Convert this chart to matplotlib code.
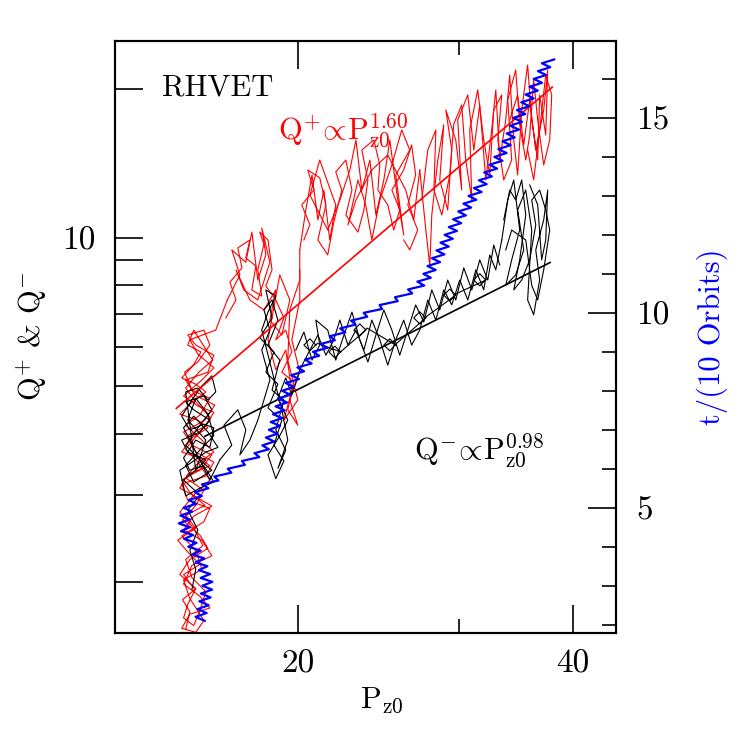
import numpy as np
import matplotlib
matplotlib.use('Agg')
import matplotlib.pyplot as plt

plt.rcParams['font.family'] = 'cmr10'
plt.rcParams['mathtext.fontset'] = 'cm'
plt.rcParams['axes.formatter.use_mathtext'] = True

qplus_low = [
    (15.05, 1.60), (15.21, 1.74), (14.93, 1.84), (15.40, 1.93), (14.97, 2.07), (15.60, 2.17),
    (15.13, 2.30), (14.75, 2.43), (15.44, 2.57), (15.05, 2.73), (15.80, 2.86), (15.21, 3.04),
    (14.90, 3.22), (15.60, 3.37), (16.08, 3.62), (15.29, 3.79), (14.97, 4.03), (15.80, 4.26),
    (16.20, 4.57), (15.40, 4.79), (15.05, 5.14), (15.92, 5.33), (16.16, 5.77), (15.44, 6.05),
    (15.13, 6.34), (15.76, 6.49), (16.00, 6.05), (15.52, 5.59), (15.01, 5.33), (15.29, 4.90),
    (16.00, 4.72), (15.60, 4.36), (15.05, 4.16), (15.68, 3.88), (16.16, 3.67), (15.44, 3.45),
    (15.05, 3.25), (15.76, 3.07), (15.44, 2.86), (14.93, 2.67), (15.60, 2.49), (15.92, 2.34),
    (15.21, 2.22), (14.83, 2.07), (15.44, 1.94), (15.13, 1.80), (14.97, 1.69), (15.36, 1.63),
    (15.60, 1.75), (15.84, 1.91), (15.29, 2.04), (15.05, 2.22), (15.72, 2.37), (15.36, 2.57),
    (14.83, 2.77), (15.36, 3.00), (16.00, 3.22), (15.52, 3.50), (15.05, 3.72), (15.60, 4.03),
    (16.04, 4.30), (15.44, 4.64), (15.05, 4.95), (15.56, 5.33), (16.12, 5.64), (15.60, 6.20),
    (15.36, 6.49), (15.13, 6.05), (15.64, 5.86), (15.33, 5.49), (14.90, 5.19), (15.44, 5.04),
    (15.84, 4.86), (15.21, 4.59), (14.83, 4.38), (15.52, 4.26), (15.92, 4.11), (15.29, 3.92),
    (14.90, 3.67), (15.60, 3.57), (16.00, 3.44), (15.13, 3.31), (14.83, 3.10), (15.52, 2.96),
    (16.08, 2.85), (15.36, 2.72), (14.97, 2.55), (15.68, 2.43), (16.08, 2.26), (15.29, 2.16),
    (14.97, 1.98), (15.60, 1.87), (16.00, 1.77), (15.21, 1.72), (14.90, 1.61), (15.44, 1.58),
    (15.76, 1.67), (15.21, 1.85), (14.97, 2.02), (15.68, 2.12), (15.44, 2.32), (14.90, 2.48),
    (15.76, 2.65), (16.00, 2.82), (15.13, 2.93), (14.90, 3.16), (15.84, 3.28), (16.16, 3.50),
    (15.44, 3.67), (15.13, 3.96), (15.84, 4.15), (16.16, 4.42), (15.52, 4.55), (14.97, 4.77),
    (15.68, 5.14), (16.16, 5.44), (15.52, 5.80), (15.21, 6.20), (15.84, 6.38), (16.24, 6.49),
    (16.72, 7.47),
]
qplus_mid_a = [
    (16.72, 7.47), (17.26, 8.40), (16.91, 9.44), (17.52, 8.91), (17.79, 10.26), (18.06, 8.20),
    (18.43, 9.23), (18.24, 10.46), (18.62, 8.91), (18.06, 7.47), (17.43, 7.83), (17.09, 8.60),
    (17.70, 7.47), (18.34, 7.13), (18.90, 7.83), (18.62, 6.80), (19.19, 6.34), (19.58, 7.47),
    (19.09, 8.40), (18.53, 6.20), (18.90, 5.39), (19.38, 5.91), (19.68, 4.90), (19.29, 4.26),
    (19.98, 4.68), (19.48, 5.64), (19.58, 7.13), (20.08, 8.20), (20.08, 9.44),
]
qplus_mid_b = [
    (16.66, 6.87), (17.09, 7.47), (16.83, 8.12), (17.35, 8.68), (17.17, 9.53), (17.70, 9.89),
    (17.52, 9.09), (17.97, 8.76), (17.79, 7.83), (18.24, 7.61), (18.06, 8.60), (18.34, 9.69),
    (18.15, 10.26), (18.53, 9.89), (18.72, 8.60), (18.43, 7.98), (18.90, 7.47), (19.29, 6.87),
    (18.90, 6.20), (19.38, 6.49), (19.68, 5.86), (19.19, 5.33), (19.78, 5.09), (19.48, 4.47),
    (19.98, 4.16), (19.58, 4.68), (20.08, 5.33), (19.68, 6.20), (20.08, 7.47), (20.08, 8.60),
]
qplus_upper_a = [
    (20.08, 9.44), (20.39, 11.38), (20.71, 13.40), (21.02, 10.86), (21.34, 12.49), (21.66, 9.89),
    (21.99, 11.65), (21.12, 14.37), (20.60, 12.20), (21.55, 10.36), (22.22, 11.92), (22.79, 13.72),
    (23.14, 15.78), (23.49, 12.49), (23.97, 14.37), (24.34, 11.11), (24.83, 13.09), (25.21, 15.78),
    (25.72, 11.92), (26.11, 10.12), (25.59, 13.40), (26.51, 15.06), (25.98, 16.54), (25.34, 14.04),
    (24.58, 11.92), (24.09, 9.89), (23.72, 11.65), (23.26, 13.09), (22.68, 10.61), (23.14, 11.92),
    (24.09, 13.72), (25.08, 14.71), (26.24, 12.49), (26.78, 10.86), (27.19, 13.72),
]
qplus_upper_b = [
    (20.29, 9.89), (20.60, 10.62), (20.18, 11.65), (20.81, 12.49), (20.49, 13.72), (21.12, 13.22),
    (21.45, 11.65), (21.02, 9.89), (21.55, 9.22), (21.88, 10.74), (22.33, 12.49), (21.99, 13.59),
    (22.56, 14.37), (22.91, 12.49), (22.56, 11.11), (23.26, 10.26), (23.61, 11.38), (23.85, 13.09),
    (23.49, 15.06), (24.21, 15.78), (24.58, 14.04), (24.46, 12.49), (25.08, 11.65), (25.46, 10.36),
    (25.85, 11.38), (25.34, 12.49), (26.11, 13.72), (26.64, 15.42), (26.91, 13.40), (26.38, 11.65),
    (27.05, 10.36), (26.51, 9.44), (26.11, 9.89),
]
qplus_top_a = [
    (27.19, 13.72), (27.61, 10.36), (27.89, 8.77), (28.03, 11.11), (28.46, 14.37), (28.89, 16.94),
    (28.60, 13.09), (29.18, 11.38), (29.48, 15.06), (29.04, 18.16), (29.78, 15.78), (30.23, 12.49),
    (29.93, 17.33), (30.70, 19.48), (31.17, 15.06), (31.64, 18.59), (32.13, 13.09), (32.61, 16.54),
    (32.95, 19.94), (33.28, 14.37), (33.79, 17.33), (34.13, 21.38), (34.48, 15.78), (34.82, 13.40),
    (35.18, 18.16), (35.71, 22.41), (36.08, 17.33), (36.63, 14.37), (36.81, 19.48), (37.38, 16.15),
    (37.57, 21.89), (37.19, 18.16), (36.45, 15.06), (35.90, 19.03), (35.36, 15.42), (34.82, 19.48),
    (34.13, 17.33),
]
qplus_top_b = [
    (27.33, 11.92), (27.75, 15.06), (28.32, 16.54), (28.18, 12.49), (28.75, 11.11), (29.33, 13.40),
    (29.63, 17.00), (30.23, 18.59), (30.54, 14.37), (31.01, 11.92), (30.85, 16.54), (31.48, 19.94),
    (31.96, 15.78), (32.45, 13.40), (32.78, 18.16), (33.45, 19.48), (33.12, 15.78), (33.62, 13.09),
    (34.30, 14.37), (33.96, 19.03), (34.65, 21.89), (35.00, 16.94), (35.54, 14.37), (35.90, 16.15),
    (36.26, 20.89), (36.63, 17.33), (37.19, 14.04), (37.76, 15.78), (37.95, 19.48), (37.38, 21.38),
    (36.81, 16.54), (36.26, 13.09), (35.71, 15.06),
]

# Q- (black) trajectory: (Pz0, Q-)
qminus_low = [
    (15.29, 1.93), (15.44, 2.12), (15.21, 2.32), (15.52, 2.55), (15.13, 2.80), (15.60, 3.00),
    (14.97, 3.22), (15.44, 3.37), (15.84, 3.54), (15.13, 3.67), (14.90, 3.88), (15.60, 4.03),
    (16.00, 4.26), (15.36, 4.47), (15.05, 4.64), (15.76, 4.77), (16.08, 4.47), (15.60, 4.16),
    (15.05, 3.79), (15.52, 3.57), (16.08, 3.37), (15.36, 3.19), (15.05, 3.45), (15.68, 3.74),
    (16.16, 3.96), (15.92, 4.38), (15.44, 4.72), (15.13, 4.26), (15.84, 3.88), (15.44, 3.37),
    (15.05, 4.86), (15.52, 4.95), (15.92, 4.68), (16.24, 4.86), (16.08, 5.24), (15.68, 5.00),
    (15.29, 4.68), (14.90, 4.34), (15.21, 4.07), (15.76, 4.18), (16.16, 4.11), (16.00, 3.75),
    (15.44, 3.88), (14.97, 3.57), (15.21, 3.37), (15.76, 3.44), (16.16, 3.19), (15.60, 3.10),
    (15.05, 2.99), (14.83, 3.37), (15.29, 3.50), (15.84, 3.67), (16.33, 3.75), (15.92, 4.03),
    (15.36, 4.34), (14.97, 4.11), (16.00, 3.22), (16.41, 3.54),
]
qminus_column = [
    (16.41, 3.54), (16.91, 3.79), (16.58, 4.16), (17.17, 4.47), (17.52, 4.07), (17.26, 3.62),
    (17.70, 3.88), (18.06, 4.26), (18.34, 4.68), (18.62, 5.14), (18.24, 5.91), (18.62, 6.49),
    (18.34, 7.13), (18.72, 7.47), (19.00, 6.80), (18.53, 6.05), (19.09, 5.64), (18.72, 4.90),
    (19.29, 4.68), (18.90, 4.07), (19.38, 3.70), (19.00, 3.40), (19.48, 3.88), (19.19, 4.47),
    (18.24, 6.49), (18.53, 7.06), (18.90, 7.61), (18.43, 7.83), (18.72, 6.87), (18.15, 6.26),
    (18.81, 5.86), (18.43, 5.33), (19.00, 5.04), (18.53, 4.51), (19.19, 4.26), (18.81, 3.79),
    (19.29, 3.52), (18.90, 3.24), (18.53, 3.62), (19.09, 3.96), (19.48, 4.26), (19.00, 4.72),
    (19.38, 5.19), (19.68, 4.79), (20.08, 5.39),
]
qminus_band_a = [
    (20.08, 5.39), (20.60, 5.91), (21.02, 6.34), (21.45, 5.77), (21.88, 6.20), (22.22, 6.80),
    (22.68, 6.05), (23.14, 6.49), (23.61, 5.91), (24.09, 6.80), (24.58, 6.20), (25.08, 5.51),
    (25.59, 6.20), (26.11, 6.80), (26.64, 6.05), (27.19, 6.49), (27.75, 7.47), (28.32, 6.80),
    (28.89, 7.83), (29.48, 7.30), (30.08, 8.20), (30.70, 7.47), (31.33, 8.60), (31.96, 7.83),
    (32.45, 9.22), (32.95, 8.60), (33.45, 9.89),
]
qminus_band_b = [
    (19.88, 5.91), (20.29, 6.43), (20.71, 5.64), (21.12, 6.05), (20.91, 6.80), (21.55, 6.49),
    (21.99, 5.64), (22.45, 6.34), (22.91, 7.06), (23.37, 6.20), (23.85, 5.59), (24.34, 6.34),
    (24.83, 7.13), (25.34, 6.49), (25.85, 5.77), (26.38, 6.49), (26.91, 7.30), (27.47, 6.74),
    (28.03, 7.83), (28.60, 7.13), (29.18, 8.20), (29.78, 7.47), (30.39, 8.68), (31.01, 7.83),
    (31.64, 9.01), (32.29, 8.20), (32.78, 9.66), (33.28, 8.80),
]
qminus_curls = [
    (20.91, 6.05), (20.60, 6.23), (20.29, 6.05), (20.60, 5.89), (21.00, 6.10),
    (22.27, 5.86), (21.94, 6.02), (21.61, 5.86), (21.94, 5.70), (22.35, 5.90),
    (23.73, 6.49), (23.37, 6.68), (23.02, 6.49), (23.37, 6.31), (23.80, 6.55),
    (25.59, 6.05), (25.21, 6.23), (24.83, 6.05), (25.21, 5.89), (25.65, 6.10),
    (27.61, 6.87), (27.19, 7.07), (26.78, 6.87), (27.19, 6.68), (27.70, 6.93),
    (29.78, 7.64), (29.33, 7.86), (28.89, 7.64), (29.33, 7.43), (29.85, 7.70),
    (32.13, 8.20), (31.64, 8.45), (31.17, 8.20), (31.64, 7.98), (32.20, 8.25),
]
qminus_right_a = [
    (33.45, 9.89), (33.96, 11.92), (34.48, 13.09), (35.00, 10.36), (34.30, 9.01), (33.79, 8.00),
    (34.65, 8.40), (35.36, 9.44), (34.82, 11.38), (35.54, 12.49), (36.08, 10.36), (35.71, 7.47),
    (36.26, 6.97), (36.81, 8.20), (36.45, 9.44), (37.19, 10.86), (37.57, 12.49), (37.38, 9.89),
    (37.00, 9.01), (36.63, 11.65), (35.90, 12.79),
]
qminus_right_b = [
    (33.62, 10.86), (34.13, 12.49), (34.65, 11.92), (35.18, 13.09), (35.54, 11.11), (35.00, 9.01),
    (34.48, 7.83), (35.18, 8.20), (35.90, 9.01), (36.45, 10.61), (36.08, 11.92), (36.81, 12.49),
    (37.38, 11.38), (37.76, 10.36), (37.19, 8.60), (36.63, 7.47), (36.08, 8.00), (35.54, 9.89),
    (34.30, 10.36), (33.79, 9.44),
]

# t/(10 orbits) (blue) against Pz0: (Pz0, t)
time_path = [
    (15.79, 2.1), (15.43, 2.2), (15.87, 2.3), (15.51, 2.4), (15.95, 2.5), (15.58, 2.6),
    (16.03, 2.7), (15.64, 2.8), (16.09, 2.9), (15.70, 3.0), (16.10, 3.1), (15.63, 3.2),
    (16.01, 3.3), (15.56, 3.4), (15.90, 3.5), (15.44, 3.6), (15.78, 3.7), (15.31, 3.8),
    (15.63, 3.9), (15.15, 4.0), (15.47, 4.1), (14.99, 4.2), (15.33, 4.3), (14.87, 4.4),
    (15.21, 4.5), (14.79, 4.6), (15.21, 4.7), (14.85, 4.8), (15.30, 4.9), (14.97, 5.0),
    (15.45, 5.1), (15.17, 5.2), (15.68, 5.3), (15.41, 5.4), (15.94, 5.5), (15.68, 5.6),
    (16.35, 5.7), (16.18, 5.8), (16.89, 5.9), (16.74, 6.0), (17.48, 6.1), (17.35, 6.2),
    (18.13, 6.3), (17.91, 6.4), (18.57, 6.5), (18.27, 6.6), (18.83, 6.7), (18.43, 6.8),
    (18.98, 6.9), (18.57, 7.0), (19.11, 7.1), (18.66, 7.2), (19.21, 7.3), (18.76, 7.4),
    (19.33, 7.5), (18.89, 7.6), (19.45, 7.7), (19.02, 7.8), (19.61, 7.9), (19.20, 8.0),
    (19.79, 8.1), (19.38, 8.2), (20.04, 8.3), (19.65, 8.4), (20.30, 8.5), (19.96, 8.6),
    (20.69, 8.7), (20.35, 8.8), (21.09, 8.9), (20.76, 9.0), (21.52, 9.1), (21.17, 9.2),
    (21.94, 9.3), (21.66, 9.4), (22.53, 9.5), (22.24, 9.6), (23.12, 9.7), (22.86, 9.8),
    (23.81, 9.9), (23.60, 10.0), (24.72, 10.1), (24.57, 10.2), (25.72, 10.3), (25.54, 10.4),
    (26.68, 10.5), (26.40, 10.6), (27.50, 10.7), (27.02, 10.8), (27.96, 10.9), (27.44, 11.0),
    (28.31, 11.1), (27.73, 11.2), (28.62, 11.3), (28.04, 11.4), (28.94, 11.5), (28.36, 11.6),
    (29.26, 11.7), (28.65, 11.8), (29.56, 11.9), (28.95, 12.0), (29.87, 12.1), (29.26, 12.2),
    (30.19, 12.3), (29.58, 12.4), (30.55, 12.5), (29.97, 12.6), (30.96, 12.7), (30.36, 12.8),
    (31.37, 12.9), (30.76, 13.0), (31.79, 13.1), (31.18, 13.2), (32.20, 13.3), (31.58, 13.4),
    (32.63, 13.5), (32.00, 13.6), (33.06, 13.7), (32.43, 13.8), (33.51, 13.9), (32.83, 14.0),
    (33.86, 14.1), (33.16, 14.2), (34.21, 14.3), (33.51, 14.4), (34.57, 14.5), (33.87, 14.6),
    (34.94, 14.7), (34.17, 14.8), (35.21, 14.9), (34.44, 15.0), (35.50, 15.1), (34.76, 15.2),
    (35.87, 15.3), (35.14, 15.4), (36.26, 15.5), (35.52, 15.6), (36.64, 15.7), (35.89, 15.8),
    (37.03, 15.9), (36.26, 16.0), (37.42, 16.1), (36.65, 16.2), (37.81, 16.3), (37.02, 16.4),
    (38.19, 16.5),
]

# power-law fits (end points)
fit_plus_p = [14.7, 38.0]
fit_plus_q = [4.5, 20.2]
fit_minus_p = [15.8, 37.8]
fit_minus_q = [3.95, 8.9]

red_passes = [qplus_low, qplus_mid_a, qplus_mid_b, qplus_upper_a, qplus_upper_b,
              qplus_top_a, qplus_top_b]
black_passes = [qminus_low, qminus_column, qminus_band_a, qminus_band_b, qminus_curls,
                qminus_right_a, qminus_right_b]
tp = np.array(time_path)

fig = plt.figure(figsize=(7.47, 7.47), dpi=100)
ax = fig.add_axes([0.1544, 0.1530, 0.6709, 0.7925])
ax.set_xscale('log')
ax.set_yscale('log')

for seg in red_passes:
    a = np.array(seg)
    ax.plot(a[:, 0], a[:, 1], color='red', lw=0.8)
for seg in black_passes:
    a = np.array(seg)
    ax.plot(a[:, 0], a[:, 1], color='black', lw=0.8)
ax.plot(fit_plus_p, fit_plus_q, color='red', lw=1.2)
ax.plot(fit_minus_p, fit_minus_q, color='black', lw=1.2)

ax.set_xlim(12.6, 44.7)
ax.set_ylim(1.577, 25.1)
ax.set_xticks([20, 40], ['20', '40'])
ax.set_xticks([30], [''], minor=True)
ax.set_yticks([10, 20], ['10', ''])
ax.set_yticks([2, 3, 4, 5, 6, 7, 8, 9], [''] * 8, minor=True)
ax.tick_params(which='both', direction='in', top=True, right=False, width=1.2, labelsize=24)
ax.tick_params(axis='x', which='major', length=20, pad=12)
ax.tick_params(axis='x', which='minor', length=10)
ax.tick_params(axis='y', which='both', length=20, pad=14)
for s in ax.spines.values():
    s.set_linewidth(1.5)

ax2 = ax.twinx()
ax2.plot(tp[:, 0], tp[:, 1], color='blue', lw=1.6)
ax2.set_ylim(1.795, 16.98)
ax2.set_yticks([5, 10, 15], ['5', '10', '15'])
ax2.set_yticks(list(range(2, 17)), [''] * 15, minor=True)
ax2.tick_params(axis='y', which='both', direction='in', width=1.2, labelsize=24, pad=14)
ax2.tick_params(axis='y', which='major', length=20)
ax2.tick_params(axis='y', which='minor', length=10)
for s in ax2.spines.values():
    s.set_linewidth(1.5)

ax.text(0.093, 0.92, 'RHVET', transform=ax.transAxes, fontsize=22, va='center')
ax.text(0.324, 0.833, r'Q$^{+}\!\propto\!$P$_{\rm z0}^{1.60}$', transform=ax.transAxes,
        color='red', fontsize=22, va='baseline')
ax.text(0.596, 0.292, r'Q$^{-}\!\propto\!$P$_{\rm z0}^{0.98}$', transform=ax.transAxes,
        color='black', fontsize=22, va='baseline')

fig.text(32 / 747, 1 - 336 / 747, r'Q$^{+}$ & Q$^{-}$', rotation=90, ha='center', va='center', fontsize=22)
fig.text(712 / 747, 1 - 337 / 747, 't/(10 Orbits)', rotation=90, ha='center', va='center',
         fontsize=22, color='blue')
fig.text(360 / 747, 1 - 708 / 747, r'P$_{\rm z0}$', ha='left', va='baseline', fontsize=22)

fig.savefig('out.png', dpi=100)
